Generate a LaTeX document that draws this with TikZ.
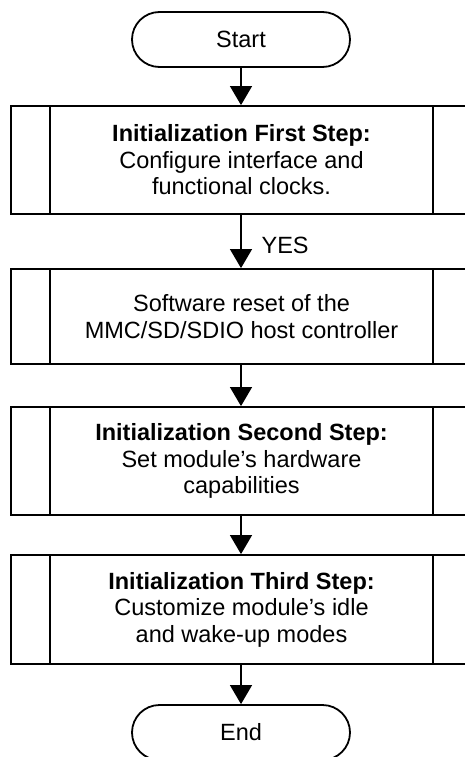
\documentclass[tikz,border=0pt]{standalone}
\usepackage{fontspec}
\setmainfont{Liberation Sans}
\usetikzlibrary{arrows.meta}
\begin{document}
\begin{tikzpicture}[x=1pt,y=-1pt,
  txt/.style={font=\fontsize{23.5}{26.5}\selectfont, align=center, inner sep=0pt},
  term/.style={txt, draw, line width=1.8pt, rounded corners=27.5pt, minimum width=218pt, minimum height=55pt},
  proc/.style={txt, draw, line width=1.8pt, minimum width=461pt},
  flow/.style={line width=1.2pt, -{Triangle[width=22pt,length=19pt]}}
]
\useasboundingbox (0,0) rectangle (465,757);
\clip (0,0) rectangle (465,757);
\node[term] (start) at (241,39.5) {Start};
\node[proc, minimum height=108pt] (b1) at (241.5,160) {\textbf{Initialization First Step:}\\Configure interface and\\functional clocks.};
\node[proc, minimum height=95pt] (b2) at (241.5,316.5) {Software reset of the\\MMC/SD/SDIO host controller};
\node[proc, minimum height=108pt] (b3) at (241.5,461) {\textbf{Initialization Second Step:}\\Set module’s hardware\\capabilities};
\node[proc, minimum height=109pt] (b4) at (241.5,609.5) {\textbf{Initialization Third Step:}\\Customize module’s idle\\and wake-up modes};
\node[term] (end) at (241,732.5) {End};
\foreach \b in {b1,b2,b3,b4}{
  \draw[line width=1.8pt] ([xshift=40pt]\b.north west) -- ([xshift=40pt]\b.south west);
  \draw[line width=1.8pt] ([xshift=-40pt]\b.north east) -- ([xshift=-40pt]\b.south east);
}
\draw[flow] (start.south -| 241,0) -- (b1.north -| 241,0);
\draw[flow] (b1.south -| 241,0) -- node[txt, right, xshift=20pt, yshift=-4pt] (yes) {YES} (b2.north -| 241,0);
\draw[flow] (b2.south -| 241,0) -- (b3.north -| 241,0);
\draw[flow] (b3.south -| 241,0) -- (b4.north -| 241,0);
\draw[flow] (b4.south -| 241,0) -- (end.north -| 241,0);
\end{tikzpicture}
\end{document}
